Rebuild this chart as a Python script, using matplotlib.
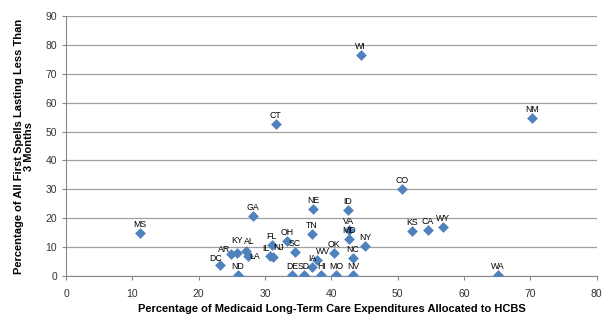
import matplotlib
matplotlib.use("Agg")
import matplotlib.pyplot as plt

states = ["MS","WI","CT","NM","CO","ID","NE","GA","KS","CA","WY","TN","VA","MD","NY","OK","NC","WV","IA",
          "HI","MO","NV","SD","DE","ND","DC","AR","KY","AL","LA","FL","IL","NJ","OH","SC","WA"]
hcbs = [11.1,44.4,31.6,70.2,50.6,42.5,37.3,28.2,52.2,54.5,56.8,37.0,42.6,42.6,45.1,40.4,43.2,37.8,37.1,
        38.5,40.7,43.3,35.8,34.1,25.9,23.2,24.8,25.8,27.1,27.4,31.0,30.7,31.2,33.3,34.5,65.1]
short_spells = [14.9,76.5,52.6,54.7,30.1,22.8,23.2,20.9,15.6,15.9,17.0,14.5,15.9,12.8,10.4,8.1,6.1,5.5,3.2,
                0.3,0.3,0.3,0.3,0.3,0.3,3.8,7.6,8.1,8.7,6.9,10.7,6.9,6.7,12.1,8.4,0.3]

x_ticks = list(range(0, 81, 10))
y_ticks = list(range(0, 91, 10))

# label offsets in pixels (dx, dy) of the label centre from the marker
offsets = {"IL": (-4, 8), "NJ": (6, 9), "LA": (7, 0), "AR": (-6, 5), "DC": (-4, 7),
           "KY": (0, 12), "AL": (4, 9), "WV": (6, 9), "NY": (0, 9)}

plt.rcParams['font.family'] = ['Liberation Sans', 'DejaVu Sans']
fig = plt.figure(figsize=(6.14, 3.33), dpi=100)
ax = fig.add_axes([0.1075, 0.171, 0.8645, 0.781])

ax.scatter(hcbs, short_spells, marker="D", s=30, color="#4F81BD", zorder=3, linewidths=0)
for s, x, y in zip(states, hcbs, short_spells):
    dx, dy = offsets.get(s, (0, 8.5))
    ax.annotate(s, (x, y), xytext=(dx, dy), textcoords="offset pixels", ha="center", va="center",
                fontsize=6.3, color="#000000", zorder=4)

ax.set_xlim(0, 80)
ax.set_ylim(0, 90)
ax.set_xticks(x_ticks)
ax.set_yticks(y_ticks)
ax.yaxis.grid(True, color="#A0A0A0", linewidth=0.9)
ax.set_axisbelow(True)
for sp in ["top", "right"]:
    ax.spines[sp].set_visible(False)
for sp in ["left", "bottom"]:
    ax.spines[sp].set_color("#888888")
ax.tick_params(axis="both", colors="#888888", labelcolor="#333333", labelsize=7.5, length=3)
ax.tick_params(axis="x", pad=6)

ax.set_xlabel("Percentage of Medicaid Long-Term Care Expenditures Allocated to HCBS",
              fontsize=8, fontweight="bold", labelpad=4)
ax.set_ylabel("Percentage of All First Spells Lasting Less Than\n3 Months",
              fontsize=8, fontweight="bold", labelpad=8, linespacing=1.0)

fig.savefig("out.png", dpi=100)
